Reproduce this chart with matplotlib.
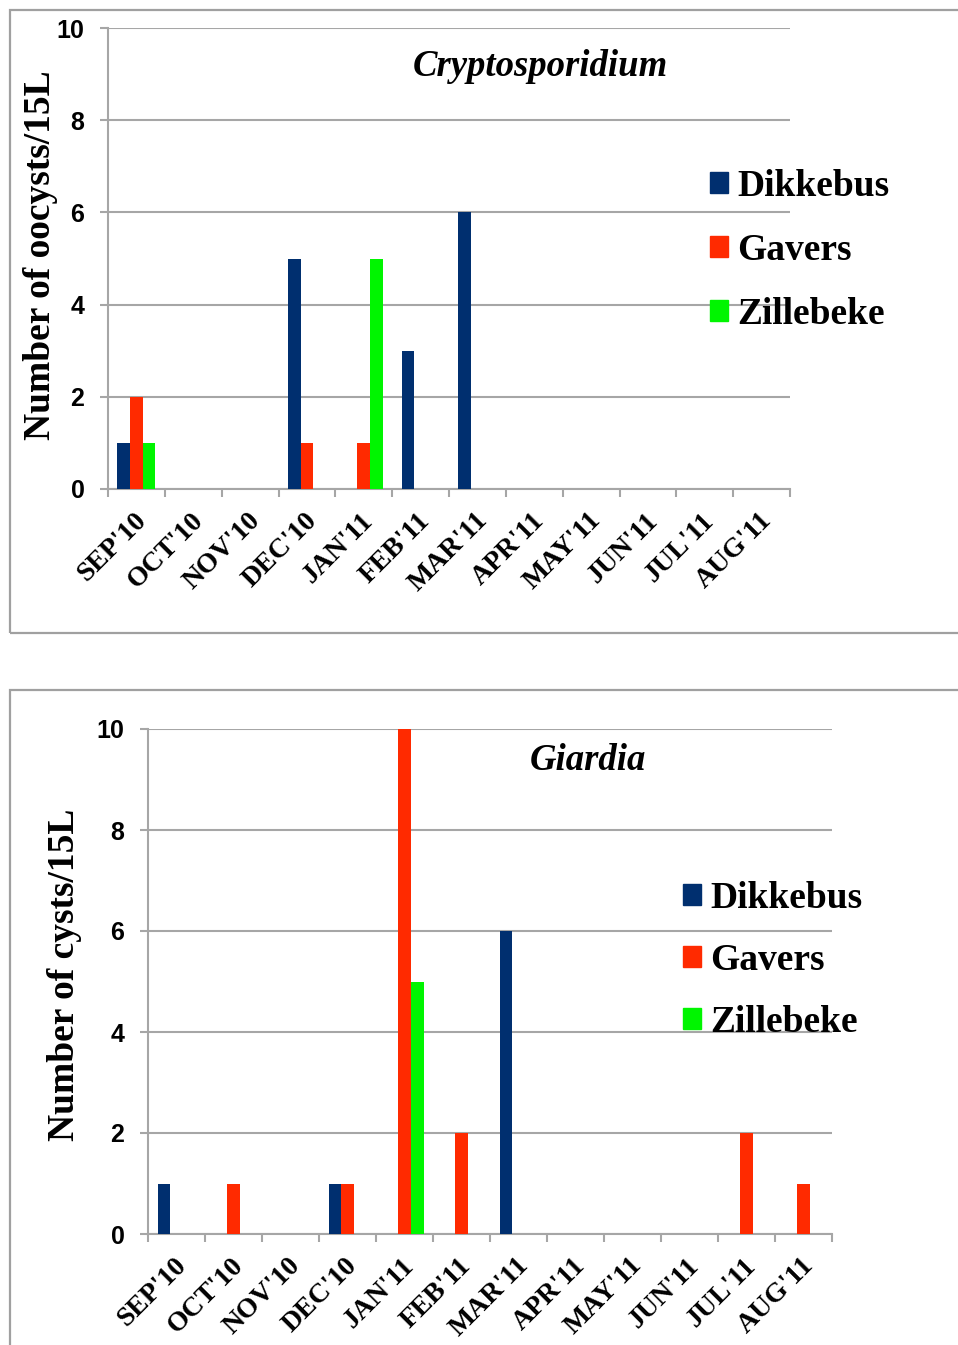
import numpy as np
import matplotlib.pyplot as plt
import matplotlib.transforms as mtrans
from matplotlib.patches import Patch, Rectangle

W, H = 958, 1345
months = ["SEP'10", "OCT'10", "NOV'10", "DEC'10", "JAN'11", "FEB'11",
          "MAR'11", "APR'11", "MAY'11", "JUN'11", "JUL'11", "AUG'11"]
sites = ["Dikkebus", "Gavers", "Zillebeke"]
colors = ["#002F6F", "#FF2A00", "#00F500"]
yticks = [0, 2, 4, 6, 8, 10]

# Cryptosporidium oocysts/15L
crypto_dikkebus = [1, 0, 0, 5, 0, 3, 6, 0, 0, 0, 0, 0]
crypto_gavers = [2, 0, 0, 1, 1, 0, 0, 0, 0, 0, 0, 0]
crypto_zillebeke = [1, 0, 0, 0, 5, 0, 0, 0, 0, 0, 0, 0]

# Giardia cysts/15L
giardia_dikkebus = [1, 0, 0, 1, 0, 0, 6, 0, 0, 0, 0, 0]
giardia_gavers = [0, 1, 0, 1, 10, 2, 0, 0, 0, 0, 2, 1]
giardia_zillebeke = [0, 0, 0, 0, 5, 0, 0, 0, 0, 0, 0, 0]

serif = ["Liberation Serif", "DejaVu Serif"]
sans = ["Liberation Sans", "DejaVu Sans"]
grid_c = "#A6A6A6"


def px(x0, y0, x1, y1):
    # pixel box (top-left origin) -> figure fraction rect
    return [x0 / W, 1 - y1 / H, (x1 - x0) / W, (y1 - y0) / H]


def panel(ax, series, ylabel, title, title_xy, leg_xy, ylab_xy):
    n = len(months)
    x = np.arange(n) + 0.5
    bw = 1 / 4.5
    for k, (vals, c) in enumerate(zip(series, colors)):
        ax.bar(x + (k - 1) * bw, vals, bw, color=c, zorder=3, label=sites[k])
    ax.set_xlim(0, n)
    ax.set_ylim(0, 10)
    ax.yaxis.grid(True, color=grid_c, lw=1.5, zorder=0)
    for s in ["top", "right"]:
        ax.spines[s].set_visible(False)
    for s in ["left", "bottom"]:
        ax.spines[s].set_color(grid_c)
        ax.spines[s].set_linewidth(1.5)
    ax.tick_params(axis="x", which="major", length=6, width=1.5, color=grid_c)
    ax.tick_params(axis="x", which="minor", length=0, pad=20)
    ax.tick_params(axis="y", length=6, width=1.5, color=grid_c, pad=11,
                   labelsize=18)
    ax.set_yticks(yticks)
    ax.set_yticklabels([str(v) for v in yticks], fontfamily=sans,
                       fontweight="bold", fontsize=18)
    ax.set_xticks(range(n + 1))
    ax.set_xticklabels([])
    ax.set_xticks(x, minor=True)
    ax.set_xticklabels(months, minor=True, rotation=45, ha="right", va="center",
                       rotation_mode="anchor", fontfamily=serif, fontweight="bold",
                       fontsize=20)
    shift = mtrans.ScaledTranslation(6 / 100, 0, fig.dpi_scale_trans)
    for t in ax.get_xticklabels(minor=True):
        t.set_transform(t.get_transform() + shift)
    ax.set_ylabel(ylabel, fontfamily=serif, fontweight="bold", fontsize=27)
    ax.yaxis.set_label_coords(*ylab_xy)
    fig.text(title_xy[0] / W, 1 - title_xy[1] / H, title, ha="center", va="center",
             fontfamily=serif, fontweight="bold", fontstyle="italic", fontsize=26.5)
    handles = [Patch(color=c) for c in colors]
    fig.legend(handles, sites, loc="upper left",
               bbox_to_anchor=(leg_xy[0] / W, 1 - leg_xy[1] / H), frameon=False,
               prop={"family": serif, "weight": "bold", "size": 27},
               handlelength=0.48, handleheight=0.48, handletextpad=0.24,
               labelspacing=leg_xy[2], borderpad=0, borderaxespad=0)


fig = plt.figure(figsize=(W / 100, H / 100), dpi=100)

# panel frames
fig.patches.append(Rectangle((10 / W, 1 - 633 / H), 1.0, (633 - 10) / H,
                             transform=fig.transFigure, fill=False,
                             edgecolor="#A0A0A0", lw=1.6))
fig.patches.append(Rectangle((10 / W, -0.05), 1.0, 0.05 + (1345 - 690) / H,
                             transform=fig.transFigure, fill=False,
                             edgecolor="#A0A0A0", lw=1.6))

ax1 = fig.add_axes(px(108, 28, 790, 489))
panel(ax1, [crypto_dikkebus, crypto_gavers, crypto_zillebeke],
      "Number of oocysts/15L", "Cryptosporidium", (540, 67),
      (710, 169, 0.77), (-0.074, 0.508))

ax2 = fig.add_axes(px(148, 729, 832, 1234))
panel(ax2, [giardia_dikkebus, giardia_gavers, giardia_zillebeke],
      "Number of cysts/15L", "Giardia", (588, 760),
      (683, 881, 0.72), (-0.096, 0.513))

fig.savefig("out.png", dpi=100)
